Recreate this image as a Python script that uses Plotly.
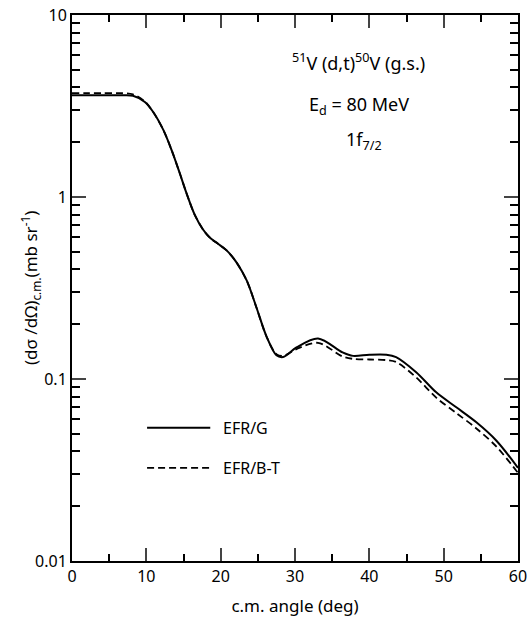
import math
import plotly.graph_objects as go

# Solid curve: EFR/G
x_g = [0, 2, 4, 6.45, 8.2, 9.8, 10.9, 12.3, 13.4, 14.5, 15.4, 16.5, 17.6, 18.6, 19.6, 20.8,
       22.1, 23.5, 24.8, 26.2, 27.5, 28.4, 30.2, 33.1, 36.4, 37.8, 40, 42.3, 43.6,
       46.3, 49.0, 51.7, 54.4, 57.1, 60]
y_g = [3.62, 3.62, 3.62, 3.62, 3.6, 3.33, 2.94, 2.33, 1.81, 1.35, 1.05, 0.80, 0.665,
       0.595, 0.555, 0.509, 0.439, 0.348, 0.248, 0.170, 0.135, 0.132, 0.149, 0.167, 0.140,
       0.134, 0.136, 0.136, 0.132, 0.109, 0.0845, 0.0699, 0.0578, 0.0458, 0.0325]

# Dashed curve: EFR/B-T
x_bt = [0, 2, 4, 6.45, 8.2, 9.8, 10.9, 12.3, 13.4, 14.5, 15.4, 16.5, 17.6, 18.6, 19.6, 20.8,
        22.1, 23.5, 24.8, 26.2, 27.5, 28.4, 30.2, 33.1, 36.4, 37.8, 40, 42.3, 43.6,
        46.3, 49.0, 51.7, 54.4, 57.1, 60]
y_bt = [3.72, 3.72, 3.72, 3.72, 3.66, 3.35, 2.94, 2.33, 1.81, 1.35, 1.05, 0.80, 0.665,
        0.595, 0.555, 0.509, 0.439, 0.348, 0.248, 0.170, 0.137, 0.134, 0.146, 0.158, 0.133,
        0.129, 0.128, 0.127, 0.124, 0.102, 0.079, 0.065, 0.0535, 0.0425, 0.0305]

x_ticks = [0, 10, 20, 30, 40, 50, 60]
y_ticks = [0.01, 0.1, 1, 10]
y_tick_labels = ["0.01", "0.1", "1", "10"]

FONT = "Noto Sans"
L = math.log10

fig = go.Figure()
fig.add_trace(go.Scatter(x=x_g, y=y_g, mode="lines",
                         line=dict(color="black", width=2, shape="spline", smoothing=0.9),
                         name="EFR/G", showlegend=False))
fig.add_trace(go.Scatter(x=x_bt, y=y_bt, mode="lines",
                         line=dict(color="black", width=1.8, dash="7px,4px", shape="spline", smoothing=0.9),
                         name="EFR/B-T", showlegend=False))

# legend keys drawn in data coordinates
fig.add_trace(go.Scatter(x=[10.1, 18.6], y=[0.054, 0.054], mode="lines",
                         line=dict(color="black", width=2), showlegend=False, hoverinfo="skip"))
fig.add_trace(go.Scatter(x=[10.1, 18.6], y=[0.0325, 0.0325], mode="lines",
                         line=dict(color="black", width=1.8, dash="7px,4px"), showlegend=False, hoverinfo="skip"))

ann_font = dict(family=FONT, size=18, color="black")
annotations = [
    dict(x=20.0, y=L(0.054), text="EFR/G", showarrow=False, xanchor="left",
         font=dict(family=FONT, size=16, color="black")),
    dict(x=20.0, y=L(0.0325), text="EFR/B-T", showarrow=False, xanchor="left",
         font=dict(family=FONT, size=16, color="black")),
    dict(x=38.5, y=L(5.5), text="<sup>51</sup>V (d,t)<sup>50</sup>V (g.s.)", showarrow=False, font=ann_font),
    dict(x=38.6, y=L(3.2), text="E<sub>d</sub> = 80 MeV", showarrow=False, font=ann_font),
    dict(x=39.3, y=L(2.05), text="1f<sub>7/2</sub>", showarrow=False, font=ann_font),
    dict(xref="paper", yref="paper", x=-0.094, y=0.5, xanchor="center", yanchor="middle",
         textangle=-90, showarrow=False,
         text="(dσ /dΩ)<sub>c.m.</sub>(mb sr<sup>-1</sup>)", font=dict(family=FONT, size=17, color="black")),
]

fig.update_layout(
    width=529, height=620,
    margin=dict(l=72, r=11, t=15, b=59),
    plot_bgcolor="white", paper_bgcolor="white",
    font=dict(family=FONT, size=16, color="black"),
    annotations=annotations,
    showlegend=False,
)
fig.update_xaxes(
    range=[0, 60], tickvals=x_ticks, ticks="inside", ticklen=13, tickwidth=1.5, automargin=False,
    showline=True, linecolor="black", linewidth=2, mirror="allticks", showgrid=False, zeroline=False,
    minor=dict(dtick=5, ticks="inside", ticklen=7, tickwidth=1.5, tickcolor="black", showgrid=False),
    tickfont=dict(family=FONT, size=16),
    title=dict(text="c.m. angle (deg)", font=dict(family=FONT, size=17), standoff=14),
)
fig.update_yaxes(
    type="log", range=[-2, 1], tickvals=y_ticks, ticktext=y_tick_labels, automargin=False,
    ticks="inside", ticklen=14, tickwidth=1.5,
    showline=True, linecolor="black", linewidth=2, mirror="allticks", showgrid=False, zeroline=False,
    minor=dict(dtick="D1", ticks="inside", ticklen=8, tickwidth=1.5, tickcolor="black", showgrid=False),
    tickfont=dict(family=FONT, size=16),
)

fig.write_html("out.html", config={"displayModeBar": False},
               post_script="document.body.style.margin='0';document.body.style.overflow='hidden';")
